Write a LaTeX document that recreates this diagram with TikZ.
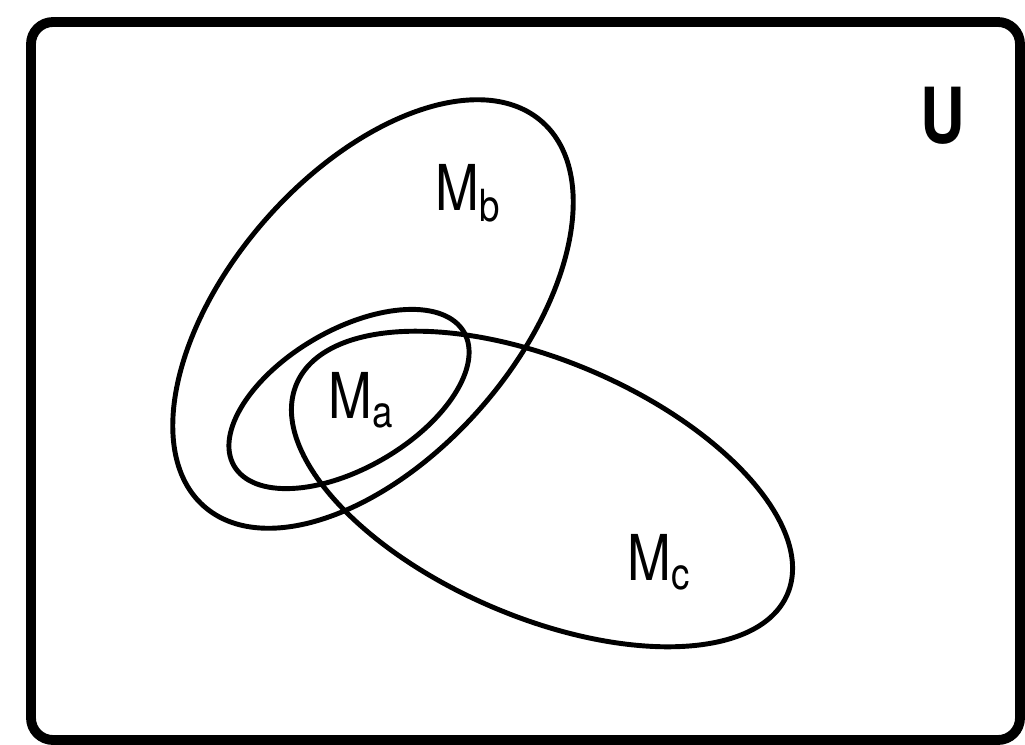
\documentclass[tikz,border=0pt]{standalone}
\usepackage{fontspec}
\setmainfont{TeX Gyre Heros}

\begin{document}
\begin{tikzpicture}[
  setline/.style={line width=1.4pt},
  setname/.style={font=\fontsize{18}{18}\selectfont, xscale=0.83, anchor=base west, inner sep=0pt}]
  \useasboundingbox (0,0) rectangle (10.25,7.44);

  % Universe
  \draw[line width=2.8pt, rounded corners=0.22cm] (0.31,0.04) rectangle (10.20,7.22);
  \node[font=\bfseries\fontsize{22}{22}\selectfont, xscale=0.8, anchor=base west, inner sep=0pt] (univ) at (9.20,6.01) {U};

  % Sets
  \draw[setline, shift={(3.73,4.30)}, rotate=48.7] (0,0) ellipse (2.56 and 1.43);
  \draw[setline, shift={(3.49,3.45)}, rotate=30.2] (0,0) ellipse (1.33 and 0.69);
  \draw[setline, shift={(5.42,2.55)}, rotate=-23.2] (0,0) ellipse (2.67 and 1.28);

  % Labels
  \node[setname] (mb) at (4.35,5.34) {M\textsubscript{b}};
  \node[setname] (ma) at (3.28,3.26) {M\textsubscript{a}};
  \node[setname] (mc) at (6.27,1.64) {M\textsubscript{c}};
\end{tikzpicture}
\end{document}
